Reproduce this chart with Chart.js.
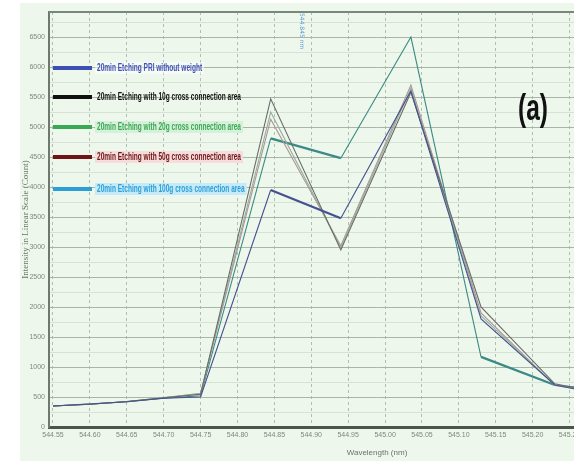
<!DOCTYPE html>
<html>
<head>
<meta charset="utf-8">
<script src="https://cdn.jsdelivr.net/npm/chart.js@4.4.1/dist/chart.umd.min.js"></script>
<style>
  html, body { margin: 0; padding: 0; background: #fff; overflow: hidden; }
  body { width: 574px; height: 461px; position: relative; }
  #wrap { position: absolute; left: 20px; top: 3px; width: 700px; height: 458px; background: #edf7ec; }
</style>
</head>
<body>
<div id="wrap"><canvas id="chart"></canvas></div>
<script>
// wavelength (nm) of each sample
const wavelengths = [544.55, 544.60, 544.65, 544.70, 544.75, 544.845, 544.94, 545.035, 545.13, 545.23, 545.28];

// counts per series
const noWeight = [350, 383, 422, 480, 500, 3950, 3480, 5600, 1800, 700, 580];
const with10g  = [350, 380, 425, 485, 545, 5470, 2950, 5580, 2000, 720, 600];
const with20g  = [350, 385, 420, 490, 555, 5250, 2990, 5650, 1850, 700, 590];
const with50g  = [350, 380, 425, 485, 560, 5130, 3020, 5700, 1900, 690, 600];
const with100g = [350, 382, 420, 480, 520, 4810, 4480, 6500, 1170, 700, 640];

const seriesLabels = [
  "20min Etching PRI without weight",
  "20min Etching with 10g cross connection area",
  "20min Etching with 20g cross connection area",
  "20min Etching with 50g cross connection area",
  "20min Etching with 100g cross connection area",
];

const xTicks = [544.55, 544.60, 544.65, 544.70, 544.75, 544.80, 544.85, 544.90, 544.95,
  545.00, 545.05, 545.10, 545.15, 545.20, 545.25, 545.30, 545.35, 545.40];
const yTicks = [0, 250, 500, 750, 1000, 1250, 1500, 1750, 2000, 2250, 2500, 2750, 3000, 3250,
  3500, 3750, 4000, 4250, 4500, 4750, 5000, 5250, 5500, 5750, 6000, 6250, 6500, 6750];

const lineColors = ["#45528f", "#6a6a6a", "#96ae9a", "#ad9595", "#3b8a86"];
const legendColors = ["#3d4fb5", "#111111", "#3aa955", "#6e1414", "#2d9fd8"];
const legendBg = ["rgba(255,255,255,0.5)", null, "#d6f0d9", "#f7dcdc", "#c6ebf8"];

const allSeries = [noWeight, with10g, with20g, with50g, with100g];

const datasets = allSeries.map((vals, i) => ({
  label: seriesLabels[i],
  data: vals.map((v, j) => ({ x: wavelengths[j], y: v })),
  borderColor: lineColors[i],
  borderWidth: 1.1,
  pointRadius: 0,
  tension: 0,
  segment: (i === 0 || i === 4) ? {
    borderWidth: (ctx) => (ctx.p0DataIndex === 5 || (i === 4 && ctx.p0DataIndex === 8)) ? 2.3 : 1.1,
  } : undefined,
}));

// legend block, "(a)" tag, top frame line
const decorations = {
  id: "decorations",
  afterDatasetsDraw(chart) {
    const { ctx, chartArea } = chart;
    const rows = [56, 85, 115, 145, 177];

    ctx.save();
    // top frame
    ctx.strokeStyle = "#7c877c";
    ctx.lineWidth = 2;
    ctx.beginPath();
    ctx.moveTo(chartArea.left, chartArea.top);
    ctx.lineTo(chartArea.right, chartArea.top);
    ctx.stroke();

    ctx.font = "bold 10px 'Liberation Sans', Arial, sans-serif";
    ctx.textBaseline = "middle";
    const sx = 144 / ctx.measureText(seriesLabels[1]).width;

    rows.forEach((off, i) => {
      const y = chartArea.top + off;
      const x0 = chartArea.left + 4;
      ctx.strokeStyle = legendColors[i];
      ctx.lineWidth = 4;
      ctx.beginPath();
      ctx.moveTo(x0, y);
      ctx.lineTo(x0 + 39, y);
      ctx.stroke();

      const tx = chartArea.left + 48;
      const w = ctx.measureText(seriesLabels[i]).width * sx;
      if (legendBg[i]) {
        ctx.fillStyle = legendBg[i];
        ctx.fillRect(tx - 2, y - 6, w + 4, 12);
      }
      ctx.save();
      ctx.translate(tx, y);
      ctx.scale(sx, 1);
      ctx.fillStyle = legendColors[i];
      ctx.fillText(seriesLabels[i], 0, 0);
      ctx.restore();
    });

    // panel tag
    ctx.save();
    ctx.translate(498, 117);
    ctx.scale(0.68, 1);
    ctx.font = "bold 36px 'Liberation Sans', Arial, sans-serif";
    ctx.textBaseline = "alphabetic";
    ctx.fillStyle = "#111";
    ctx.fillText("(a)", 0, 0);
    ctx.restore();

    // small rotated marker note
    ctx.save();
    ctx.translate(282, 10);
    ctx.rotate(Math.PI / 2);
    ctx.font = "6px 'DejaVu Sans', sans-serif";
    ctx.fillStyle = "#5a9ad0";
    ctx.textBaseline = "middle";
    ctx.fillText("544.845 nm", 0, 0);
    ctx.restore();

    ctx.restore();
  },
};

new Chart(document.getElementById("chart"), {
  type: "line",
  data: { datasets },
  options: {
    responsive: true,
    maintainAspectRatio: false,
    animation: false,
    devicePixelRatio: 1,
    layout: { padding: { top: 9, right: 15, left: 0, bottom: 0 } },
    plugins: { legend: { display: false }, tooltip: { enabled: false } },
    scales: {
      x: {
        type: "linear",
        min: 544.5446,
        max: 545.4335,
        afterBuildTicks: (s) => { s.ticks = xTicks.map((v) => ({ value: v })); },
        afterFit: (s) => { s.height = 34; },
        ticks: {
          callback: (v) => Number(v).toFixed(2),
          autoSkip: false,
          maxRotation: 0,
          padding: 4,
          color: "#7f897f",
          font: { size: 7, family: "'Liberation Sans', Arial, sans-serif" },
        },
        grid: { color: "#b2beb0", lineWidth: 1, drawTicks: false },
        border: { color: "#4d544d", width: 3, dash: [3, 3] },
        title: {
          display: true,
          text: "Wavelength (nm)",
          color: "#6a746a",
          font: { size: 8, family: "'Liberation Sans', Arial, sans-serif" },
          padding: { top: 2, bottom: 3 },
        },
      },
      y: {
        min: 0,
        max: 6917,
        afterBuildTicks: (s) => { s.ticks = yTicks.map((v) => ({ value: v })); },
        afterFit: (s) => { s.width = 29; },
        ticks: {
          callback: (v) => (v % 500 === 0 ? v : ""),
          autoSkip: false,
          padding: 4,
          color: "#7f897f",
          font: { size: 7, family: "'Liberation Sans', Arial, sans-serif" },
        },
        grid: {
          color: (c) => (c.tick && c.tick.value % 500 === 0 ? "#a9b5a7" : "rgba(160,180,160,0.3)"),
          lineWidth: 1,
          drawTicks: false,
        },
        border: { color: "#6f7a6f", width: 2 },
        title: {
          display: true,
          text: "Intensity in Linear Scale (Count)",
          color: "#6a746a",
          font: { size: 9, family: "'Liberation Serif', serif" },
          padding: { top: 0, bottom: 2 },
        },
      },
    },
  },
  plugins: [decorations],
});
</script>
</body>
</html>
